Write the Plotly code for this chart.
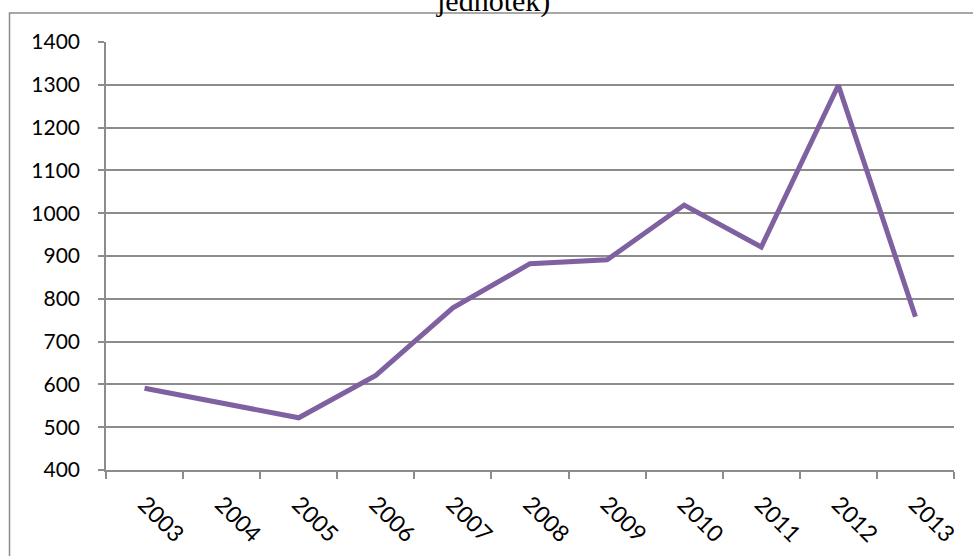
import plotly.graph_objects as go

years = ["2003", "2004", "2005", "2006", "2007", "2008", "2009", "2010", "2011", "2012", "2013"]
values = [591, 557, 522, 621, 779, 882, 891, 1019, 921, 1299, 758]
title_text = "jednotek)"

W, H = 973, 556
L, R, T, B = 106, 19, 42, 86
pw, ph = W - L - R, H - T - B

def px_x(p):
    return (p - L) / pw

def px_y(p):
    return (H - B - p) / ph

grey = "#8C8C8C"

fig = go.Figure()
fig.add_trace(go.Scatter(
    x=years, y=values, mode="lines",
    line=dict(color="#7F60A0", width=5),
    hoverinfo="skip", showlegend=False,
))

fig.update_layout(
    width=W, height=H,
    margin=dict(l=L, r=R, t=T, b=B, autoexpand=False),
    paper_bgcolor="white", plot_bgcolor="white",
    font=dict(family="Lato", size=21, color="black"),
    xaxis=dict(
        type="category", range=[-0.5, 10.5], tickson="boundaries",
        showgrid=False, showline=True, linecolor=grey, linewidth=1.5,
        ticks="outside", ticklen=7, tickcolor=grey, tickwidth=1.5,
        tickangle=45, tickfont=dict(family="Lato", size=23),
        ticklabelstandoff=10, automargin=False,
    ),
    yaxis=dict(
        range=[400, 1400], dtick=100, tick0=400,
        showgrid=True, gridcolor=grey, gridwidth=1.5,
        showline=True, linecolor=grey, linewidth=1.5,
        ticks="outside", ticklen=6, tickcolor=grey, tickwidth=1.5,
        tickfont=dict(family="Lato", size=21), zeroline=False,
        ticklabelstandoff=14, automargin=False,
    ),
    shapes=[dict(
        type="rect", xref="paper", yref="paper",
        x0=px_x(9.5), x1=px_x(990), y0=px_y(570), y1=px_y(13),
        line=dict(color=grey, width=1.5), fillcolor="rgba(0,0,0,0)", layer="above",
    )],
    annotations=[dict(
        text=title_text, xref="paper", yref="paper",
        x=px_x(493), y=px_y(20), xanchor="center", yanchor="bottom",
        showarrow=False, font=dict(family="Liberation Serif", size=30, color="black"),
    )],
)

fig.write_html(
    "out.html",
    config={"displayModeBar": False},
    post_script="document.body.style.margin='0';document.body.style.overflow='hidden';",
)
